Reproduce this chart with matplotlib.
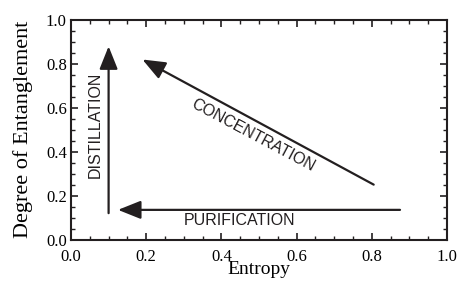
import numpy as np
import matplotlib
matplotlib.use('Agg')
import matplotlib.pyplot as plt
from matplotlib.ticker import MultipleLocator

# arrows: (start, end) in data coords
processes = ['DISTILLATION', 'CONCENTRATION', 'PURIFICATION']
starts = [(0.10, 0.12), (0.805, 0.25), (0.875, 0.135)]
ends = [(0.10, 0.88), (0.19, 0.82), (0.125, 0.135)]
label_pos = [(0.065, 0.52), (0.485, 0.475), (0.447, 0.088)]
label_rot = [90, -28, 0]

ticks = [0.0, 0.2, 0.4, 0.6, 0.8, 1.0]

fig = plt.figure(figsize=(4.59, 2.81), dpi=100)
ax = fig.add_axes([71/459, 1-239.5/281, 376/459, 219.5/281])

for (x0, y0), (x1, y1) in zip(starts, ends):
    ax.annotate('', xy=(x1, y1), xytext=(x0, y0),
                arrowprops=dict(arrowstyle='-|>,head_length=1.0,head_width=0.4',
                                color='#231f20', lw=1.6, mutation_scale=14,
                                shrinkA=0, shrinkB=0))

for name, (x, y), r in zip(processes, label_pos, label_rot):
    ax.text(x, y, name, rotation=r, ha='center', va='center',
            family='Liberation Sans', fontsize=11.5, color='#231f20',
            rotation_mode='anchor')

ax.set_xlim(0, 1)
ax.set_ylim(0, 1)
ax.set_xticks(ticks)
ax.set_yticks(ticks)
ax.set_xticklabels(['%.1f' % t for t in ticks])
ax.set_yticklabels(['%.1f' % t for t in ticks])
ax.xaxis.set_minor_locator(MultipleLocator(0.05))
ax.yaxis.set_minor_locator(MultipleLocator(0.05))
ax.tick_params(which='both', direction='in', top=True, right=True, color='#231f20')
ax.tick_params(which='major', length=5, width=1.2, labelsize=12, pad=3)
ax.tick_params(which='minor', length=3, width=1.0)
ax.tick_params(axis='x', which='major', pad=7)
for lab in ax.get_xticklabels() + ax.get_yticklabels():
    lab.set_family('Liberation Serif')
for s in ax.spines.values():
    s.set_linewidth(1.5)
    s.set_color('#231f20')

ax.set_xlabel('Entropy', family='Liberation Serif', fontsize=14, labelpad=-3)
ax.set_ylabel('Degree of Entanglement', family='Liberation Serif', fontsize=16, labelpad=9)

fig.savefig('out.png', dpi=100)
